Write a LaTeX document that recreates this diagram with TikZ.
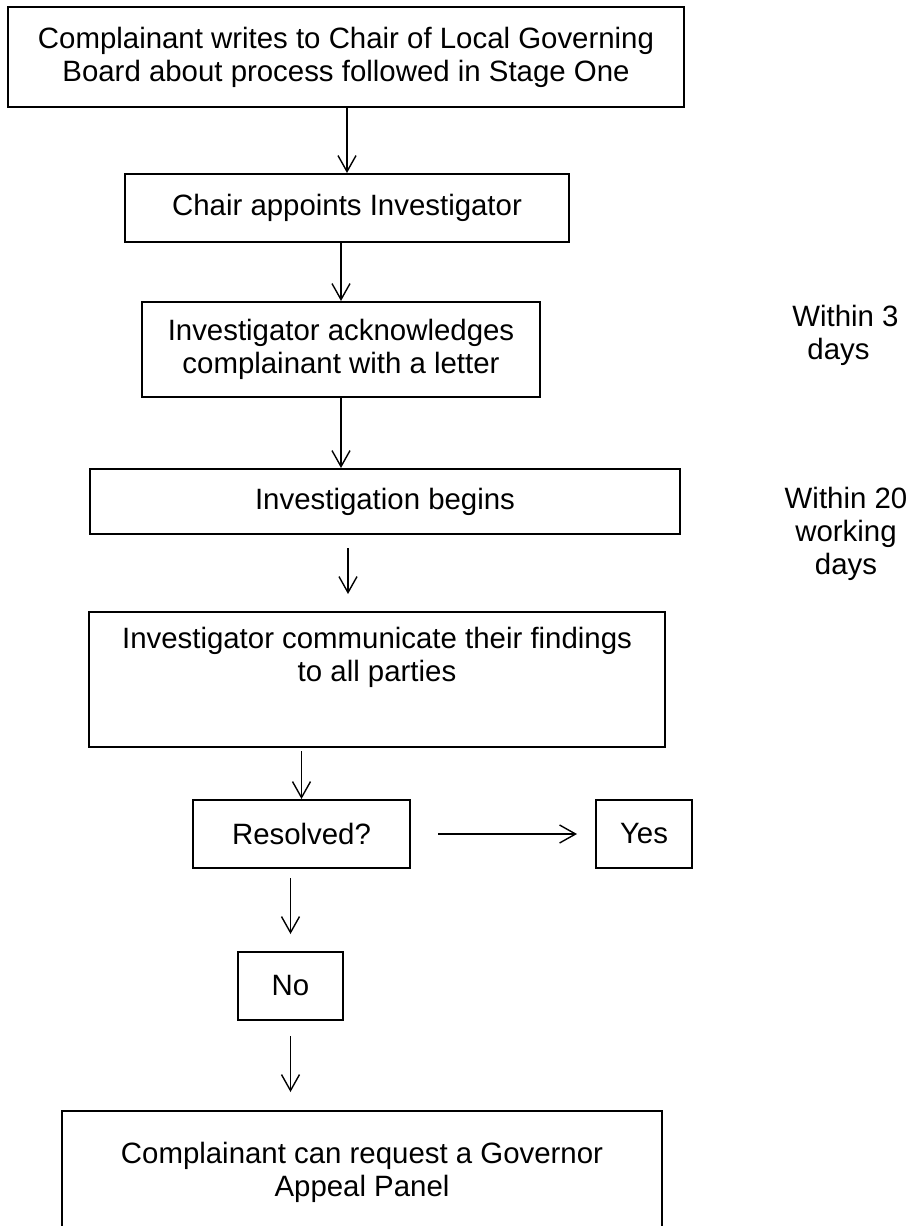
\documentclass[tikz,border=0pt]{standalone}
\usepackage{fontspec}
\setmainfont{Liberation Sans}
\usetikzlibrary{arrows.meta}
\tikzset{
  stage/.style  = {rectangle, draw=black, line width=1pt, align=center, inner sep=0pt},
  flow/.style   = {-{Straight Barb[length=8pt,width=9pt]}, line width=0.7pt},
  timing/.style = {inner sep=0pt},
}

\begin{document}
\begin{tikzpicture}[x=0.5pt, y=-0.5pt, font=\fontsize{14.7}{16.5}\selectfont]
  \fill[white] (0,0) rectangle (913,1226);
  \useasboundingbox (0,0) rectangle (913,1226);

  % stage two boxes, top to bottom
  \node[stage, minimum width=338pt, minimum height=50pt] (complaint) at (346,57)
    {Complainant writes to Chair of Local Governing\\Board about process followed in Stage One};
  \node[stage, minimum width=222pt, minimum height=34pt] (appoint) at (347,208)
    {Chair appoints Investigator};
  \node[stage, minimum width=199pt, minimum height=47.5pt] (acknowledge) at (341,349.5)
    {Investigator acknowledges\\complainant with a letter};
  \node[stage, minimum width=295pt, minimum height=32.5pt] (investigate) at (385,501.5)
    {Investigation begins};
  \node[stage, minimum width=288pt, minimum height=67.5pt] (findings) at (377,679.5)
    {Investigator communicate their findings\\to all parties\\[9pt] \mbox{}};
  \node[stage, minimum width=108.5pt, minimum height=34pt] (resolved) at (301.5,834) {Resolved?};
  \node[stage, minimum width=48pt, minimum height=34pt] (yes) at (644,834) {Yes};
  \node[stage, minimum width=52.5pt, minimum height=34pt] (no) at (290.5,986) {No};
  \node[stage, minimum width=300pt, minimum height=61pt] (appeal) at (362,1172)
    {Complainant can request a Governor\\Appeal Panel};

  % time limits
  \node[timing, anchor=north west, align=left] (three) at (792,305)
    {Within 3\\\hspace*{7.5pt}days};
  \node[timing, anchor=north, align=center] (twenty) at (846,487)
    {Within 20\\working\\days};

  \draw[flow] (complaint.south -| appoint.north) -- (appoint.north);
  \draw[flow] (appoint.south -| acknowledge.north) -- (acknowledge.north);
  \draw[flow] (acknowledge.south) -- (acknowledge.south |- investigate.north);
  \draw[flow] ([xshift=3.5pt,yshift=-6.5pt]acknowledge.south |- investigate.south)
    -- ([xshift=3.5pt,yshift=8.5pt]acknowledge.south |- findings.north);
  \draw[flow] ([yshift=-1.5pt]findings.south -| resolved.north) -- (resolved.north);
  \draw[flow] ([xshift=13.5pt]resolved.east) -- ([xshift=-9pt]yes.west);
  \draw[flow] ([yshift=-4.5pt]resolved.south -| no.north) -- ([yshift=8.5pt]no.north);
  \draw[flow] ([yshift=-7.5pt]no.south) -- ([yshift=9pt]no.south |- appeal.north);
\end{tikzpicture}
\end{document}
